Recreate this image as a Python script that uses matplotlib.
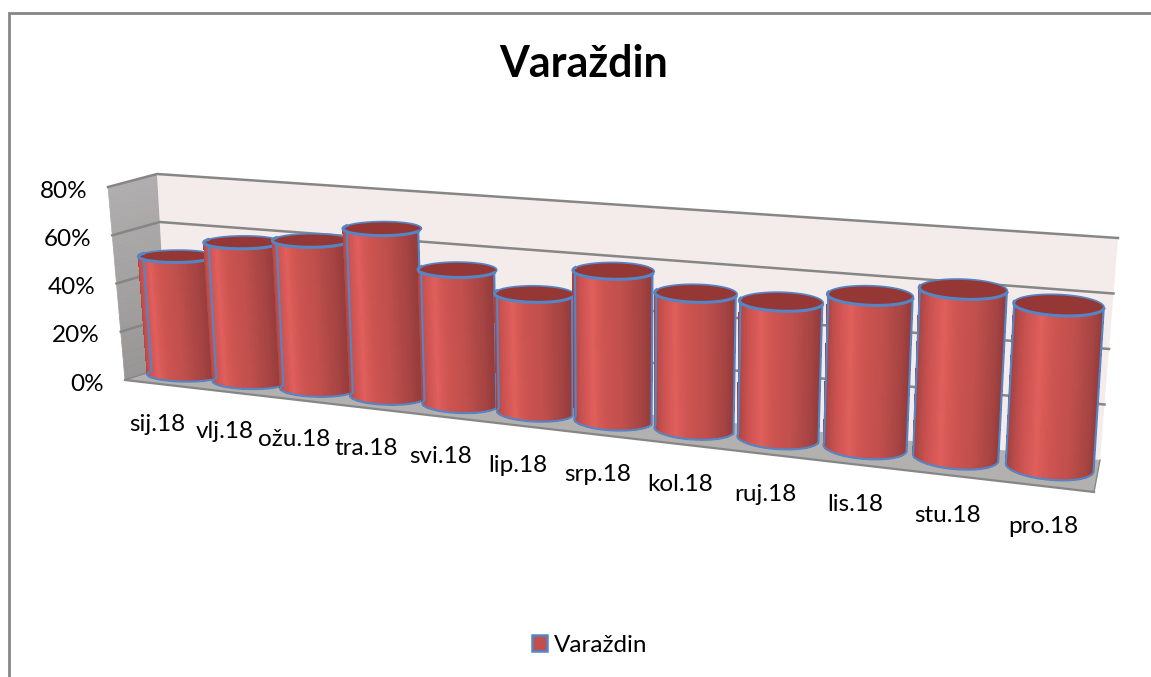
import numpy as np
import matplotlib
matplotlib.use("Agg")
import matplotlib.pyplot as plt
from matplotlib.collections import PolyCollection
from matplotlib.patches import Patch, Polygon
from matplotlib.colors import to_rgb

categories = ["sij.18", "vlj.18", "ožu.18", "tra.18", "svi.18", "lip.18",
              "srp.18", "kol.18", "ruj.18", "lis.18", "stu.18", "pro.18"]
values = [49, 57, 60, 67, 53, 46, 57.5, 51.5, 51, 56, 61, 58]
series_name = "Varaždin"
value_ticks = [0, 20, 40, 60, 80]
tick_labels = ["0%", "20%", "40%", "60%", "80%"]
title = "Varaždin"

W, H = 1151, 677
VMAX = 80.0
N = len(categories)

# Projection of the 3-D box on to the page: (side, level, depth) corners
CORNERS = {
    (0, 0, 0): (125, 380), (1, 0, 0): (1094, 492),
    (0, 0, 1): (168, 366), (1, 0, 1): (1100, 460),
    (0, 1, 0): (108, 187), (1, 1, 0): (1102, 262),
    (0, 1, 1): (157, 174), (1, 1, 1): (1118, 238),
}
PERSP = 0.02
RD, DC = 0.40, 0.62


def project(u, v, d):
    u, v, d = np.broadcast_arrays(np.asarray(u, float), np.asarray(v, float), np.asarray(d, float))
    s = u / (N * (1 + PERSP * (N - u)))
    t = v / VMAX
    out = np.zeros(u.shape + (2,))
    for (a, b, c), p in CORNERS.items():
        w = (s if a else 1 - s) * (t if b else 1 - t) * (d if c else 1 - d)
        out += w[..., None] * np.array(p, float)
    return out


font = ["Lato", "DejaVu Sans"]
plt.rcParams["font.family"] = font
fig = plt.figure(figsize=(W / 100, H / 100), dpi=100, facecolor="white")
ax = fig.add_axes([0, 0, 1, 1])
ax.set_xlim(0, W)
ax.set_ylim(H, 0)
ax.axis("off")

# chart frame
ax.plot([9, 9, W], [H, 13, 13], color="#868686", lw=2, solid_joinstyle="miter", zorder=1)


def lerp(c1, c2, f):
    return tuple(np.array(to_rgb(c1)) * (1 - f) + np.array(to_rgb(c2)) * f)


# walls and floor
GRID = "#868686"
n_wall = 40
vs = np.linspace(0, VMAX, n_wall + 1)
wall_polys = [project(0, [vs[k], vs[k], vs[k + 1], vs[k + 1]], [0, 1, 1, 0]) for k in range(n_wall)]
wall_cols = [lerp("#989595", "#b0aeae", k / n_wall) for k in range(n_wall)]
ax.add_collection(PolyCollection(wall_polys, facecolors=wall_cols, edgecolors=wall_cols,
                                 linewidths=0.5, zorder=2))
ax.add_patch(Polygon(project([0, N, N, 0], [0, 0, VMAX, VMAX], 1), fc="#f4ebeb", ec="none", zorder=2))
ax.add_patch(Polygon(project([0, N, N, 0], 0, [0, 0, 1, 1]), fc="#b3b0b0", ec="none", zorder=2.1))
# floor edges
ax.plot(*project([0, N], 0, 0).T, color=GRID, lw=1.6, zorder=3)
ax.plot(*project([N, N], 0, [0, 1]).T, color=GRID, lw=1.0, zorder=3)
ax.plot(*project([0, 0], 0, [0, 1]).T, color=GRID, lw=1.0, zorder=3)

# gridlines on the side wall and the back wall
for v in value_ticks[1:]:
    pts = project([0, 0, N], v, [0, 1, 1])
    ax.plot(pts[:, 0], pts[:, 1], color=GRID, lw=1.8, zorder=3, solid_joinstyle="miter")

# value axis labels
for v, lab in zip(value_ticks, tick_labels):
    p = project(0, v, 0)
    ax.annotate(lab, xy=p, xytext=(-15, -3), textcoords="offset points", ha="right",
                va="center", fontsize=17.5, color="black", zorder=6)

# cylinders
STOPS_X = [0, 0.06, 0.25, 0.45, 0.62, 0.8, 0.95, 1]
STOPS_C = ["#963c3b", "#a54443", "#c04f4c", "#cc5350", "#df5f5c", "#c9514f", "#a54443", "#963c3b"]
stop_rgb = np.array([to_rgb(c) for c in STOPS_C])
BLUE = "#5585c4"
TOP = "#953735"
ts = np.linspace(np.pi, 0, 61)
for i, val in enumerate(values):
    uc = i + 0.5
    ru = 0.505 - 0.05 * uc / N
    cu = uc + ru * np.cos(ts)
    cd = DC - RD * np.sin(ts)
    low = project(cu, 0, cd)
    up = project(cu, val, cd)
    polys = [np.array([low[k], low[k + 1], up[k + 1], up[k]]) for k in range(len(ts) - 1)]
    fr = (1 - np.cos((ts[:-1] + ts[1:]) / 2)) / 2
    cols = np.column_stack([np.interp(fr, STOPS_X, stop_rgb[:, j]) for j in range(3)])
    ax.add_collection(PolyCollection(polys, facecolors=cols, edgecolors=cols, linewidths=0.25,
                                     antialiaseds=False, zorder=4 + i * 0.01))
    outline = np.vstack([up[:1], low, up[-1:]])
    ax.plot(outline[:, 0], outline[:, 1], color=BLUE, lw=1.5, zorder=4.005 + i * 0.01)
    ta = np.linspace(0, 2 * np.pi, 90)
    ring = project(uc + ru * np.cos(ta), val, DC + RD * np.sin(ta))
    ax.add_patch(Polygon(ring, fc=TOP, ec=BLUE, lw=1.2, zorder=4.006 + i * 0.01))
    ax.plot(up[:, 0], up[:, 1], color=BLUE, lw=2.2, zorder=4.007 + i * 0.01)

    # category label
    p = project(uc, 0, 0)
    ax.annotate(categories[i], xy=p, xytext=(-0.5, -29), textcoords="offset points", ha="center",
                va="center", fontsize=17.5, color="black", zorder=6)

ax.text(584, 64, title, ha="center", va="center", fontsize=31, fontweight="bold", color="black")

leg = ax.legend(handles=[Patch(facecolor="#c0504d", edgecolor=BLUE, lw=1.8, label=series_name)],
                loc="center", bbox_to_anchor=(590 / W, 1 - 645 / H), frameon=False,
                fontsize=17.5, handlelength=0.6, handleheight=0.6, handletextpad=0.3)

fig.savefig("out.png", dpi=100, facecolor="white")
